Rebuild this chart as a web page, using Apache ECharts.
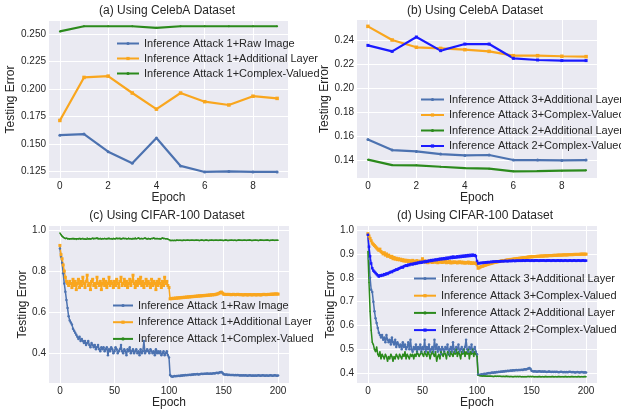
<!DOCTYPE html>
<html><head><meta charset="utf-8">
<script src="https://cdn.jsdelivr.net/npm/echarts@6.0.0/dist/echarts.min.js"></script>
<style>html,body{margin:0;padding:0;background:#fff}#c{width:621px;height:411px}</style>
</head><body><div id="c"></div>
<script>
// ---------- Panel (a) CelebA, epochs 0..9 ----------
const aRaw = [0.158,0.159,0.143,0.1325,0.1555,0.130,0.1245,0.125,0.1245,0.1245];
const aAdd = [0.1714,0.2106,0.2118,0.1964,0.1817,0.1964,0.1885,0.1855,0.1935,0.1915];
const aCv  = [0.2525,0.2572,0.2572,0.2572,0.2558,0.2572,0.2572,0.2572,0.2572,0.2572];
// ---------- Panel (b) CelebA ----------
const bA3Add = [0.1572,0.1483,0.1472,0.1450,0.1439,0.1442,0.1400,0.1400,0.1397,0.1400];
const bA3Cv  = [0.2517,0.2403,0.2342,0.2333,0.2322,0.2308,0.2272,0.2272,0.2267,0.2264];
const bA2Add = [0.1403,0.1358,0.1356,0.1344,0.1333,0.1328,0.1306,0.1308,0.1311,0.1314];
const bA2Cv  = [0.2358,0.2308,0.2428,0.2314,0.2369,0.2369,0.2250,0.2236,0.2231,0.2231];
// ---------- Panel (c) CIFAR-100, epochs 0..200 ----------
const cRaw = [
0.91,0.87,0.84,0.79,0.74,0.70,0.66,0.62,0.58,0.56,
0.55,0.54,0.52,0.51,0.50,0.49,0.48,0.47,0.48,0.46,
0.47,0.46,0.45,0.46,0.44,0.45,0.46,0.44,0.43,0.45,
0.44,0.43,0.44,0.42,0.43,0.44,0.42,0.41,0.43,0.42,
0.43,0.41,0.42,0.43,0.39,0.42,0.41,0.43,0.42,0.40,
0.41,0.43,0.42,0.40,0.41,0.42,0.44,0.41,0.40,0.42,
0.41,0.39,0.42,0.41,0.43,0.40,0.41,0.42,0.40,0.41,
0.42,0.40,0.41,0.39,0.42,0.40,0.41,0.46,0.40,0.41,
0.42,0.41,0.40,0.42,0.41,0.40,0.41,0.39,0.42,0.40,
0.41,0.40,0.41,0.39,0.40,0.41,0.39,0.40,0.41,0.39,
0.38,0.295,0.288,0.286,0.287,0.289,0.288,0.290,0.289,0.291,
0.290,0.292,0.291,0.293,0.292,0.294,0.293,0.295,0.294,0.296,
0.295,0.297,0.296,0.298,0.297,0.298,0.299,0.297,0.298,0.299,
0.300,0.299,0.300,0.301,0.300,0.302,0.301,0.300,0.302,0.301,
0.302,0.303,0.302,0.304,0.305,0.303,0.306,0.308,0.309,0.305,
0.298,0.297,0.296,0.297,0.295,0.296,0.295,0.294,0.295,0.294,
0.293,0.294,0.293,0.294,0.293,0.292,0.293,0.292,0.293,0.292,
0.293,0.292,0.291,0.292,0.293,0.292,0.291,0.292,0.291,0.292,
0.291,0.292,0.293,0.292,0.291,0.292,0.293,0.292,0.291,0.292,
0.292,0.291,0.292,0.293,0.292,0.291,0.292,0.293,0.292,0.291,
0.292];
const cAdd = [
0.925,0.88,0.86,0.83,0.80,0.77,0.75,0.74,0.73,0.75,
0.74,0.72,0.76,0.73,0.75,0.71,0.74,0.76,0.72,0.75,
0.73,0.77,0.74,0.72,0.75,0.78,0.73,0.74,0.71,0.75,
0.76,0.73,0.74,0.72,0.77,0.74,0.73,0.75,0.71,0.74,
0.76,0.73,0.75,0.72,0.74,0.77,0.73,0.75,0.74,0.72,
0.75,0.73,0.76,0.74,0.72,0.75,0.77,0.73,0.74,0.76,
0.73,0.75,0.72,0.74,0.76,0.73,0.75,0.78,0.74,0.72,
0.75,0.73,0.76,0.74,0.77,0.73,0.75,0.72,0.74,0.76,
0.73,0.75,0.74,0.72,0.76,0.73,0.75,0.74,0.71,0.75,
0.73,0.76,0.74,0.72,0.75,0.73,0.77,0.74,0.75,0.73,
0.72,0.665,0.667,0.666,0.668,0.667,0.669,0.668,0.670,0.669,
0.671,0.670,0.672,0.671,0.673,0.672,0.674,0.673,0.675,0.674,
0.676,0.675,0.677,0.676,0.678,0.677,0.679,0.678,0.680,0.679,
0.680,0.681,0.680,0.682,0.681,0.683,0.682,0.684,0.683,0.685,
0.684,0.686,0.685,0.687,0.688,0.690,0.692,0.696,0.698,0.693,
0.688,0.687,0.686,0.687,0.686,0.687,0.686,0.685,0.686,0.687,
0.686,0.685,0.686,0.687,0.686,0.685,0.686,0.685,0.684,0.685,
0.686,0.685,0.684,0.685,0.686,0.685,0.684,0.685,0.686,0.685,
0.684,0.685,0.686,0.685,0.684,0.685,0.686,0.687,0.686,0.685,
0.686,0.687,0.686,0.687,0.688,0.687,0.688,0.689,0.688,0.689,
0.688];
const cCv = [
0.985,0.977,0.970,0.965,0.961,0.958,0.960,0.956,0.958,0.955,
0.958,0.956,0.959,0.955,0.957,0.954,0.958,0.956,0.959,0.955,
0.957,0.960,0.956,0.958,0.955,0.961,0.957,0.959,0.956,0.958,
0.960,0.956,0.959,0.957,0.961,0.955,0.958,0.960,0.956,0.959,
0.957,0.960,0.958,0.956,0.959,0.961,0.957,0.959,0.956,0.960,
0.958,0.956,0.960,0.957,0.959,0.961,0.956,0.958,0.960,0.957,
0.959,0.956,0.958,0.961,0.957,0.959,0.956,0.960,0.958,0.962,
0.957,0.959,0.961,0.956,0.958,0.960,0.957,0.959,0.961,0.958,
0.956,0.960,0.958,0.955,0.959,0.957,0.961,0.956,0.958,0.960,
0.957,0.959,0.956,0.958,0.961,0.957,0.959,0.956,0.958,0.955,
0.953,0.948,0.949,0.950,0.949,0.950,0.949,0.951,0.950,0.949,
0.950,0.950,0.949,0.951,0.950,0.949,0.950,0.951,0.950,0.949,
0.950,0.951,0.950,0.949,0.950,0.951,0.950,0.950,0.949,0.950,
0.951,0.950,0.949,0.950,0.951,0.950,0.949,0.950,0.950,0.951,
0.950,0.949,0.950,0.951,0.950,0.949,0.950,0.951,0.950,0.950,
0.949,0.950,0.951,0.950,0.949,0.950,0.950,0.951,0.950,0.949,
0.950,0.950,0.949,0.950,0.951,0.950,0.950,0.949,0.950,0.951,
0.950,0.949,0.950,0.950,0.951,0.950,0.949,0.950,0.950,0.951,
0.950,0.950,0.949,0.950,0.951,0.950,0.950,0.949,0.950,0.950,
0.951,0.950,0.949,0.950,0.950,0.951,0.950,0.949,0.950,0.950,
0.950];
// ---------- Panel (d) CIFAR-100, epochs 0..200 ----------
const dA3Add = [
0.98,0.88,0.80,0.75,0.74,0.70,0.66,0.63,0.61,0.59,
0.57,0.56,0.55,0.56,0.54,0.55,0.53,0.56,0.54,0.53,
0.54,0.52,0.55,0.53,0.52,0.54,0.51,0.53,0.52,0.51,
0.52,0.50,0.53,0.51,0.52,0.50,0.51,0.53,0.50,0.54,
0.50,0.49,0.51,0.50,0.52,0.49,0.51,0.50,0.52,0.49,
0.51,0.50,0.54,0.49,0.51,0.50,0.52,0.49,0.50,0.51,
0.49,0.54,0.50,0.52,0.49,0.51,0.50,0.48,0.51,0.50,
0.49,0.51,0.50,0.52,0.48,0.50,0.51,0.49,0.53,0.50,
0.49,0.51,0.50,0.52,0.49,0.50,0.51,0.49,0.50,0.51,
0.54,0.50,0.49,0.51,0.50,0.52,0.49,0.50,0.51,0.49,
0.48,0.395,0.393,0.394,0.396,0.395,0.397,0.398,0.397,0.399,
0.400,0.401,0.400,0.402,0.403,0.402,0.404,0.403,0.405,0.404,
0.406,0.405,0.407,0.406,0.408,0.407,0.409,0.408,0.410,0.409,
0.410,0.411,0.410,0.412,0.411,0.412,0.413,0.412,0.414,0.413,
0.414,0.415,0.414,0.416,0.417,0.416,0.418,0.420,0.422,0.419,
0.410,0.408,0.407,0.408,0.407,0.406,0.407,0.408,0.407,0.406,
0.407,0.406,0.407,0.406,0.405,0.406,0.407,0.406,0.405,0.406,
0.405,0.406,0.405,0.406,0.405,0.404,0.405,0.406,0.405,0.404,
0.405,0.404,0.405,0.404,0.405,0.406,0.405,0.404,0.405,0.404,
0.403,0.404,0.405,0.404,0.403,0.404,0.405,0.404,0.403,0.404,
0.403];
const dA3Cv = [
0.985,0.975,0.965,0.955,0.945,0.940,0.935,0.930,0.925,0.920,
0.915,0.920,0.910,0.905,0.900,0.905,0.895,0.900,0.890,0.895,
0.890,0.885,0.890,0.880,0.885,0.878,0.882,0.876,0.880,0.875,
0.878,0.872,0.876,0.870,0.874,0.869,0.873,0.868,0.872,0.870,
0.868,0.873,0.866,0.870,0.864,0.872,0.868,0.865,0.870,0.866,
0.880,0.867,0.871,0.865,0.869,0.863,0.870,0.866,0.868,0.864,
0.869,0.865,0.870,0.866,0.863,0.868,0.865,0.870,0.864,0.867,
0.865,0.869,0.863,0.867,0.864,0.868,0.862,0.866,0.863,0.867,
0.864,0.866,0.862,0.865,0.867,0.863,0.866,0.862,0.865,0.861,
0.864,0.862,0.866,0.861,0.864,0.860,0.863,0.861,0.862,0.860,
0.855,0.840,0.842,0.845,0.847,0.848,0.850,0.852,0.853,0.855,
0.856,0.858,0.859,0.860,0.862,0.863,0.864,0.865,0.866,0.867,
0.868,0.869,0.870,0.871,0.872,0.872,0.873,0.874,0.875,0.875,
0.876,0.877,0.877,0.878,0.879,0.879,0.880,0.881,0.881,0.882,
0.882,0.883,0.884,0.884,0.885,0.885,0.886,0.887,0.887,0.888,
0.888,0.888,0.889,0.889,0.889,0.890,0.890,0.890,0.891,0.891,
0.891,0.891,0.892,0.892,0.892,0.892,0.893,0.893,0.893,0.893,
0.894,0.894,0.894,0.894,0.895,0.895,0.895,0.895,0.895,0.896,
0.896,0.896,0.896,0.896,0.897,0.897,0.897,0.897,0.897,0.898,
0.898,0.898,0.898,0.898,0.898,0.899,0.899,0.899,0.899,0.899,
0.899];
const dA2Add = [
0.91,0.78,0.66,0.58,0.53,0.52,0.50,0.49,0.51,0.48,
0.47,0.49,0.46,0.48,0.47,0.46,0.48,0.47,0.45,0.47,
0.46,0.48,0.47,0.45,0.47,0.46,0.48,0.47,0.46,0.48,
0.47,0.46,0.48,0.47,0.49,0.46,0.48,0.47,0.46,0.48,
0.47,0.48,0.46,0.48,0.47,0.49,0.48,0.47,0.48,0.49,
0.48,0.47,0.49,0.48,0.47,0.49,0.48,0.46,0.48,0.49,
0.48,0.47,0.49,0.45,0.47,0.48,0.46,0.49,0.48,0.47,
0.49,0.48,0.46,0.49,0.48,0.47,0.49,0.48,0.47,0.49,
0.48,0.50,0.47,0.49,0.48,0.46,0.49,0.48,0.50,0.47,
0.49,0.48,0.50,0.46,0.49,0.48,0.50,0.47,0.49,0.48,
0.47,0.392,0.390,0.389,0.389,0.388,0.389,0.388,0.388,0.387,
0.388,0.387,0.388,0.387,0.387,0.386,0.387,0.387,0.386,0.387,
0.386,0.387,0.386,0.386,0.387,0.386,0.386,0.387,0.386,0.386,
0.385,0.386,0.386,0.385,0.386,0.386,0.385,0.386,0.385,0.386,
0.386,0.385,0.386,0.385,0.386,0.385,0.386,0.386,0.385,0.386,
0.385,0.386,0.385,0.385,0.386,0.385,0.385,0.386,0.385,0.385,
0.386,0.385,0.385,0.386,0.385,0.385,0.386,0.385,0.385,0.386,
0.385,0.385,0.386,0.385,0.385,0.386,0.385,0.385,0.386,0.385,
0.385,0.386,0.385,0.385,0.386,0.385,0.385,0.386,0.385,0.385,
0.386,0.385,0.385,0.386,0.385,0.385,0.386,0.385,0.385,0.386,
0.385];
const dA2Cv = [
0.980,0.930,0.890,0.860,0.840,0.830,0.825,0.820,0.815,0.810,
0.805,0.810,0.808,0.812,0.810,0.815,0.813,0.818,0.816,0.820,
0.822,0.825,0.824,0.828,0.830,0.832,0.835,0.834,0.838,0.840,
0.842,0.845,0.843,0.848,0.850,0.852,0.850,0.855,0.853,0.857,
0.858,0.856,0.860,0.858,0.862,0.860,0.864,0.862,0.866,0.863,
0.867,0.865,0.869,0.866,0.870,0.868,0.872,0.870,0.874,0.871,
0.875,0.873,0.877,0.874,0.878,0.876,0.880,0.877,0.881,0.878,
0.882,0.879,0.884,0.880,0.885,0.882,0.887,0.883,0.889,0.884,
0.888,0.885,0.890,0.886,0.891,0.887,0.892,0.888,0.893,0.889,
0.894,0.890,0.895,0.891,0.896,0.892,0.897,0.893,0.895,0.891,
0.870,0.860,0.862,0.861,0.863,0.862,0.864,0.863,0.865,0.864,
0.866,0.865,0.866,0.867,0.866,0.868,0.867,0.868,0.869,0.868,
0.869,0.868,0.870,0.869,0.870,0.869,0.871,0.870,0.869,0.871,
0.870,0.871,0.870,0.872,0.871,0.870,0.872,0.871,0.872,0.871,
0.872,0.871,0.873,0.872,0.871,0.873,0.872,0.873,0.872,0.871,
0.873,0.872,0.871,0.873,0.872,0.873,0.872,0.871,0.873,0.872,
0.872,0.873,0.872,0.871,0.873,0.872,0.873,0.872,0.871,0.872,
0.873,0.872,0.871,0.872,0.873,0.872,0.871,0.873,0.872,0.871,
0.872,0.873,0.872,0.871,0.872,0.873,0.872,0.871,0.872,0.873,
0.872,0.871,0.872,0.873,0.872,0.871,0.872,0.873,0.872,0.871,
0.872];

const titles = ['(a) Using CelebA Dataset','(b) Using CelebA Dataset','(c) Using CIFAR-100 Dataset','(d) Using CIFAR-100 Dataset'];
const xTicksShort = [0,2,4,6,8];
const xTicksLong = [0,50,100,150,200];
const yTicksA = [0.125,0.150,0.175,0.200,0.225,0.250];
const yTicksB = [0.14,0.16,0.18,0.20,0.22,0.24];
const yTicksC = [0.4,0.6,0.8,1.0];
const yTicksD = [0.4,0.5,0.6,0.7,0.8,0.9,1.0];

const N_RAW = 'Inference Attack 1+Raw Image';
const N_ADD1 = 'Inference Attack 1+Additional Layer';
const N_CV1 = 'Inference Attack 1+Complex-Valued';
const N_A3ADD = 'Inference Attack 3+Additional Layer';
const N_A3CV = 'Inference Attack 3+Complex-Valued';
const N_A2ADD = 'Inference Attack 2+Additional Layer';
const N_A2CV = 'Inference Attack 2+Complex-Valued';

const FONT = '"Liberation Sans", Arial, sans-serif';
const C_BLUE = '#4c72b0', C_ORANGE = '#f9a61e', C_GREEN = '#2b8a1c', C_BLUE2 = '#1a1aff';
const TXT = '#262626';

const pairs = arr => arr.map((v, i) => [i, v]);

const grids = [
  {left: 49, top: 21, width: 239, height: 157},
  {left: 357, top: 20, width: 240, height: 158},
  {left: 49, top: 226, width: 240, height: 157},
  {left: 357, top: 226, width: 240, height: 157}
];
const bg = '#eaeaf2';

function xAxis(i, min, max, ticks) {
  return {
    type: 'value', gridIndex: i, min: min, max: max,
    name: 'Epoch', nameLocation: 'middle', nameGap: 12,
    nameTextStyle: {fontFamily: FONT, fontSize: 12, color: TXT},
    axisLine: {show: false}, axisTick: {show: false, customValues: ticks},
    axisLabel: {customValues: ticks, fontFamily: FONT, fontSize: 10, color: TXT, margin: 3},
    splitLine: {show: true, lineStyle: {color: '#ffffff', width: 1}}
  };
}
function yAxis(i, min, max, ticks, dec, gap) {
  return {
    type: 'value', gridIndex: i, min: min, max: max,
    name: 'Testing Error', nameLocation: 'middle', nameGap: gap,
    nameTextStyle: {fontFamily: FONT, fontSize: 12, color: TXT},
    axisLine: {show: false}, axisTick: {show: false, customValues: ticks},
    axisLabel: {customValues: ticks, fontFamily: FONT, fontSize: 10, color: TXT, margin: 3,
      formatter: v => v.toFixed(dec)},
    splitLine: {show: true, lineStyle: {color: '#ffffff', width: 1}}
  };
}
function line(name, data, gi, color, sym, size, width) {
  return {
    type: 'line', name: name, xAxisIndex: gi, yAxisIndex: gi, data: pairs(data),
    symbol: sym, symbolSize: size, showSymbol: true, showAllSymbol: true,
    lineStyle: {color: color, width: width}, itemStyle: {color: color},
    animation: false, silent: true
  };
}
function legend(names, left, top, gap, iw) {
  return {
    data: names, orient: 'vertical', left: left, top: top, itemGap: gap,
    itemWidth: iw, itemHeight: 4, padding: 0, selectedMode: false,
    textStyle: {fontFamily: FONT, fontSize: 11, color: TXT, lineHeight: 13}
  };
}

const option = {
  backgroundColor: '#ffffff',
  animation: false,
  title: titles.map((t, i) => ({
    text: t, left: [167, 475, 167, 475][i], top: [5, 5, 210, 210][i], textAlign: 'center', padding: 0,
    textStyle: {fontFamily: FONT, fontSize: 12, fontWeight: 'normal', color: TXT}
  })),
  grid: grids.map(g => Object.assign({backgroundColor: bg, show: true, borderWidth: 0}, g)),
  xAxis: [xAxis(0, -0.45, 9.45, xTicksShort), xAxis(1, -0.45, 9.45, xTicksShort),
          xAxis(2, -10, 210, xTicksLong), xAxis(3, -10, 210, xTicksLong)],
  yAxis: [yAxis(0, 0.119, 0.262, yTicksA, 3, 29), yAxis(1, 0.125, 0.257, yTicksB, 2, 22),
          yAxis(2, 0.2555, 1.0195, yTicksC, 1, 20), yAxis(3, 0.359, 1.017, yTicksD, 1, 20)],
  legend: [
    legend([N_RAW, N_ADD1, N_CV1], 116, 37, 2, 22),
    legend([N_A3ADD, N_A3CV, N_A2ADD, N_A2CV], 420, 93, 2.5, 23),
    legend([N_RAW, N_ADD1, N_CV1], 112, 299, 3.7, 20),
    legend([N_A3ADD, N_A3CV, N_A2ADD, N_A2CV], 413, 272, 4.2, 22)
  ],
  series: [
    line(N_RAW, aRaw, 0, C_BLUE, 'circle', 3, 2.2),
    line(N_ADD1, aAdd, 0, C_ORANGE, 'rect', 3.5, 2.2),
    line(N_CV1, aCv, 0, C_GREEN, 'circle', 2, 2.2),
    line(N_A3ADD, bA3Add, 1, C_BLUE, 'circle', 3, 2.2),
    line(N_A3CV, bA3Cv, 1, C_ORANGE, 'rect', 3.5, 2.2),
    line(N_A2ADD, bA2Add, 1, C_GREEN, 'circle', 2, 2.2),
    line(N_A2CV, bA2Cv, 1, C_BLUE2, 'rect', 3, 2.2),
    line(N_RAW, cRaw, 2, C_BLUE, 'circle', 2.5, 1.5),
    line(N_ADD1, cAdd, 2, C_ORANGE, 'rect', 3, 1.5),
    line(N_CV1, cCv, 2, C_GREEN, 'circle', 1.5, 1.5),
    line(N_A3ADD, dA3Add, 3, C_BLUE, 'circle', 2.5, 1.5),
    line(N_A3CV, dA3Cv, 3, C_ORANGE, 'rect', 3, 1.5),
    line(N_A2ADD, dA2Add, 3, C_GREEN, 'circle', 1.5, 1.5),
    line(N_A2CV, dA2Cv, 3, C_BLUE2, 'rect', 2.5, 1.5)
  ]
};
const chart = echarts.init(document.getElementById('c'), null, {renderer: 'canvas'});
chart.setOption(option);
</script>
</body></html>
